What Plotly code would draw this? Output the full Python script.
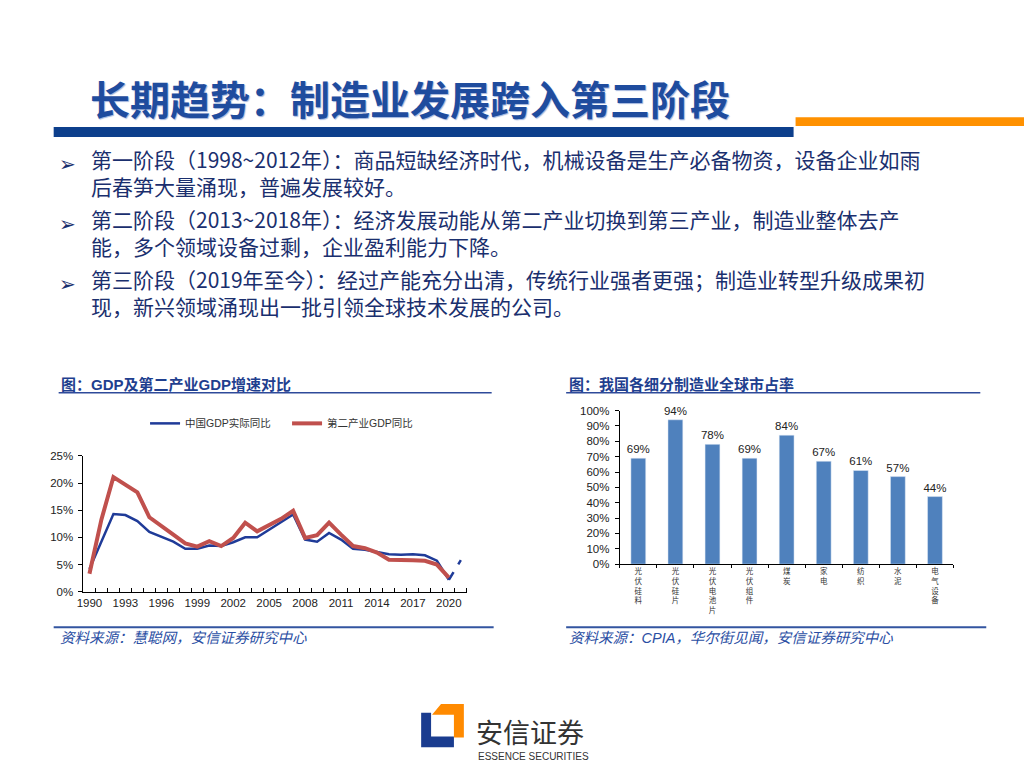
import plotly.graph_objects as go

W, H = 1024, 768


def px(x):
    return x / W


def py(y):
    return 1 - y / H


# ---------------- data ----------------
years = list(range(1990, 2021))
gdp_real = [4.2, 9.2, 14.3, 14.1, 13.0, 11.0, 10.1, 9.2, 7.9, 7.9,
            8.5, 8.4, 9.1, 10.0, 10.0, 11.4, 12.7, 14.2, 9.6, 9.2,
            10.8, 9.6, 7.9, 7.7, 7.3, 6.9, 6.8, 6.9, 6.7, 5.7, 2.2]
secondary_gdp = [3.3, 13.3, 21.1, 19.7, 18.3, 13.7, 12.0, 10.5, 8.9, 8.3,
                 9.3, 8.4, 9.9, 12.7, 11.1, 12.2, 13.4, 14.9, 9.9, 10.4,
                 12.7, 10.5, 8.4, 8.0, 7.2, 5.9, 5.9, 5.8, 5.7, 5.0, 2.6]
forecast_year = 2021
gdp_forecast = 5.8
year_ticks = list(range(1990, 2021, 3))
pct_ticks_left = [0, 5, 10, 15, 20, 25]

industries = ["光伏硅料", "光伏硅片", "光伏电池片", "光伏组件", "煤炭", "家电", "纺织", "水泥", "电气设备"]
share = [69, 94, 78, 69, 84, 67, 61, 57, 44]
pct_ticks_right = list(range(0, 101, 10))

title = "长期趋势：制造业发展跨入第三阶段"
bullet_lines = [
    ["第一阶段（1998~2012年）：商品短缺经济时代，机械设备是生产必备物资，设备企业如雨",
     "后春笋大量涌现，普遍发展较好。"],
    ["第二阶段（2013~2018年）：经济发展动能从第二产业切换到第三产业，制造业整体去产",
     "能，多个领域设备过剩，企业盈利能力下降。"],
    ["第三阶段（2019年至今）：经过产能充分出清，传统行业强者更强；制造业转型升级成果初",
     "现，新兴领域涌现出一批引领全球技术发展的公司。"],
]
left_title = "图：GDP及第二产业GDP增速对比"
right_title = "图：我国各细分制造业全球市占率"
left_source = "资料来源：慧聪网，安信证券研究中心"
right_source = "资料来源：CPIA，华尔街见闻，安信证券研究中心"

# ---------------- styles ----------------
FONT = "Liberation Sans, Arial, Noto Sans CJK SC, sans-serif"
CJK = "Noto Sans CJK SC, sans-serif"
BLUE_LINE = "#1F3B98"
RED_LINE = "#C0504D"
BAR = "#4F81BD"
NAVY = "#1a2f6e"
SRC = "#2a4ea3"

fig = go.Figure()

fig.add_trace(go.Scatter(x=years, y=gdp_real, mode="lines", name="中国GDP实际同比",
                         line=dict(color=BLUE_LINE, width=2.5), xaxis="x", yaxis="y"))
fig.add_trace(go.Scatter(x=[years[-1], forecast_year], y=[gdp_real[-1], gdp_forecast],
                         mode="lines", showlegend=False,
                         line=dict(color=BLUE_LINE, width=2.5, dash="dash"), xaxis="x", yaxis="y"))
fig.add_trace(go.Scatter(x=years, y=secondary_gdp, mode="lines", name="第二产业GDP同比",
                         line=dict(color=RED_LINE, width=4), xaxis="x", yaxis="y"))

fig.add_trace(go.Bar(x=industries, y=share, marker=dict(color=BAR), width=0.4,
                     text=[f"{v}%" for v in share], textposition="outside",
                     constraintext="none",
                     textfont=dict(size=11.5, color="#222", family=FONT),
                     cliponaxis=False, showlegend=False, xaxis="x2", yaxis="y2"))

axis_common = dict(showgrid=False, zeroline=False, showline=True, linecolor="#000", linewidth=1,
                   tickcolor="#000", tickfont=dict(size=11.5, color="#222", family=FONT))

fig.update_layout(
    width=W, height=H,
    margin=dict(l=0, r=0, t=0, b=0),
    paper_bgcolor="white", plot_bgcolor="white",
    font=dict(family=FONT, color="#222"),
    xaxis=dict(domain=[px(77), px(463)], range=[1989.5, 2021.5], tickmode="array",
               tickvals=year_ticks, ticktext=[str(y) for y in year_ticks], ticks="", anchor="y",
               minor=dict(tickmode="array", tickvals=[y + 0.5 for y in range(1990, 2022)],
                          ticks="inside", ticklen=4, tickcolor="#000"),
               **axis_common),
    yaxis=dict(domain=[py(595), py(457)], range=[0, 25], tickmode="array",
               tickvals=pct_ticks_left, ticktext=[f"{v}%" for v in pct_ticks_left],
               ticks="outside", ticklen=4, ticklabelstandoff=3, anchor="x", **axis_common),
    xaxis2=dict(domain=[px(617), px(953)], type="category", range=[-0.5, len(industries) - 0.5],
                tickmode="array", tickvals=industries,
                ticktext=["<br>".join(list(c)) for c in industries], tickangle=0,
                tickson="boundaries", ticks="outside", ticklen=3, anchor="y2",
                showgrid=False, zeroline=False, showline=True, linecolor="#000", linewidth=1,
                tickcolor="#000", tickfont=dict(size=7.5, color="#333", family=CJK)),
    yaxis2=dict(domain=[py(567), py(411)], range=[0, 100], tickmode="array",
                tickvals=pct_ticks_right, ticktext=[f"{v}%" for v in pct_ticks_right],
                ticks="outside", ticklen=4, ticklabelstandoff=3, anchor="x2", **axis_common),
    legend=dict(orientation="h", x=px(139), y=py(424), xanchor="left", yanchor="middle",
                font=dict(size=10.5, color="#333", family=FONT), bgcolor="rgba(0,0,0,0)",
                entrywidth=97, entrywidthmode="pixels", itemwidth=30),
)

shapes = []
# header bars
shapes.append(dict(type="rect", xref="paper", yref="paper", x0=px(47), x1=px(792), y0=py(133), y1=py(123),
                   fillcolor="#0d3f8c", line=dict(width=0), layer="below"))
shapes.append(dict(type="rect", xref="paper", yref="paper", x0=px(794), x1=px(1024), y0=py(122), y1=py(113),
                   fillcolor="#ff9100", line=dict(width=0), layer="below"))
# chart title underlines
for x0, x1 in [(52, 488), (563, 980)]:
    shapes.append(dict(type="line", xref="paper", yref="paper", x0=px(x0), x1=px(x1), y0=py(393), y1=py(393),
                       line=dict(color="#2e4a9a", width=1.5)))
# source lines
for x0, x1 in [(47, 490), (563, 986)]:
    shapes.append(dict(type="line", xref="paper", yref="paper", x0=px(x0), x1=px(x1), y0=py(631), y1=py(631),
                       line=dict(color="#3355a0", width=2)))


def path(points):
    return "M " + " L ".join(f"{px(a):.5f},{py(b):.5f}" for a, b in points) + " Z"


# logo: blue L and orange corner
shapes.append(dict(type="path", xref="paper", yref="paper",
                   path=path([(417, 718), (427, 718), (427, 742), (450, 742), (450, 753), (417, 753)]),
                   fillcolor="#1a3c8f", line=dict(width=0)))
shapes.append(dict(type="path", xref="paper", yref="paper",
                   path=path([(437, 709), (460, 709), (460, 743), (450, 743), (450, 720), (428, 720)]),
                   fillcolor="#ff8a00", line=dict(width=0)))

annotations = []
annotations.append(dict(text=title, x=px(82), y=py(93), xref="paper", yref="paper", xanchor="left",
                        yanchor="middle", showarrow=False,
                        font=dict(size=40, color="#1f4c9e", family=CJK, weight="bold",
                                  shadow="1px 1px 1px #9fb3dc")))
line_y = [160, 221, 282]
for lines, yy in zip(bullet_lines, line_y):
    annotations.append(dict(text="➢", x=px(50), y=py(yy), xref="paper", yref="paper", xanchor="left",
                            yanchor="middle", showarrow=False,
                            font=dict(size=20, color=NAVY, family="DejaVu Sans")))
    annotations.append(dict(text="<br>".join(lines), x=px(83), y=py(yy - 22), xref="paper", yref="paper",
                            xanchor="left", yanchor="top", align="left", showarrow=False,
                            font=dict(size=21, color=NAVY, family=CJK)))
for t, x in [(left_title, 52), (right_title, 564)]:
    annotations.append(dict(text=t, x=px(x), y=py(385), xref="paper", yref="paper", xanchor="left",
                            yanchor="middle", showarrow=False,
                            font=dict(size=15, color="#1f3f8f", family=FONT, weight="bold")))
for t, x in [(left_source, 51), (right_source, 564)]:
    annotations.append(dict(text=t, x=px(x), y=py(642), xref="paper", yref="paper", xanchor="left",
                            yanchor="middle", showarrow=False,
                            font=dict(size=14.5, color=SRC, family=FONT, style="italic")))
annotations.append(dict(text="安信证券", x=px(470), y=py(737), xref="paper", yref="paper", xanchor="left",
                        yanchor="middle", showarrow=False,
                        font=dict(size=27, color="#333", family=CJK)))
annotations.append(dict(text="ESSENCE SECURITIES", x=px(472), y=py(762), xref="paper", yref="paper",
                        xanchor="left", yanchor="middle", showarrow=False,
                        font=dict(size=10, color="#333", family="Liberation Sans Narrow, Liberation Sans, Arial")))

fig.update_layout(shapes=shapes, annotations=annotations)

fig.write_html("out.html", config={"displayModeBar": False},
               post_script="document.body.style.margin='0px';")
